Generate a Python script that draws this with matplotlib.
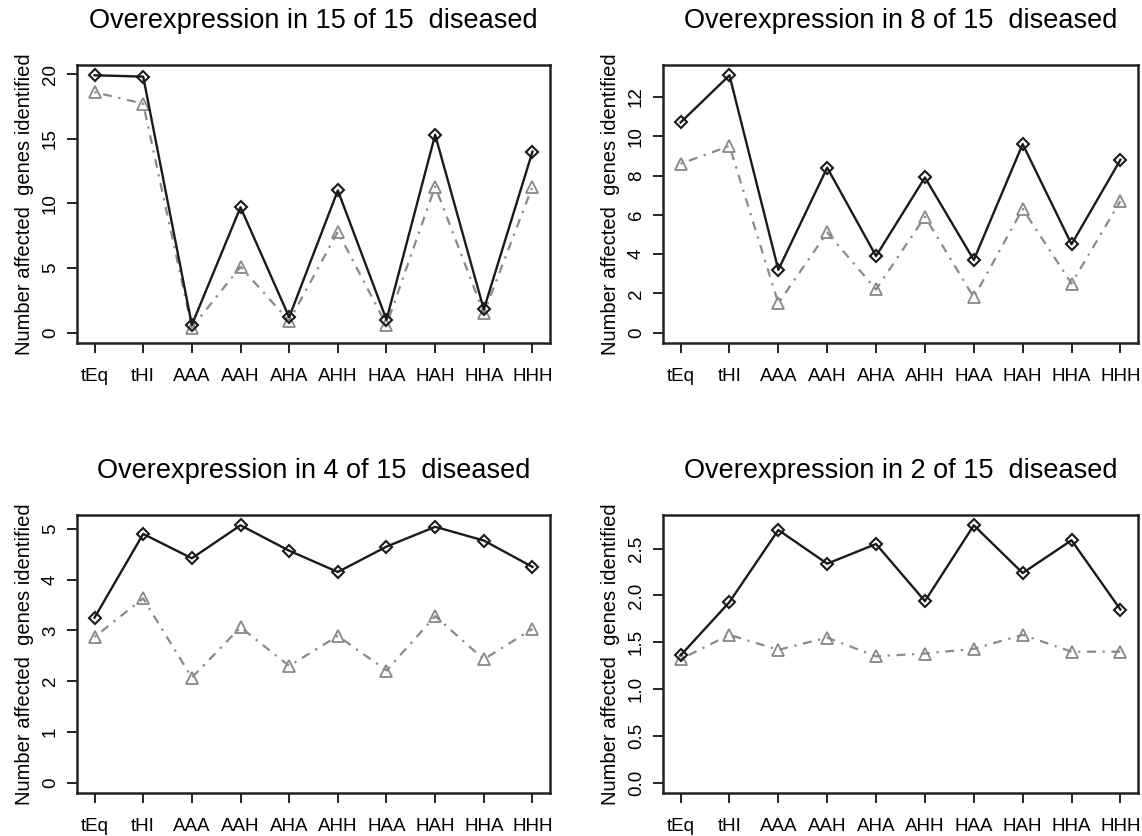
import matplotlib
matplotlib.use("Agg")
import matplotlib.pyplot as plt
import numpy as np

plt.rcParams['font.family'] = ['Liberation Sans', 'DejaVu Sans']

cats = ["tEq", "tHI", "AAA", "AAH", "AHA", "AHH", "HAA", "HAH", "HHA", "HHH"]

titles = ["Overexpression in 15 of 15  diseased",
          "Overexpression in 8 of 15  diseased",
          "Overexpression in 4 of 15  diseased",
          "Overexpression in 2 of 15  diseased"]

black_15 = [19.9, 19.8, 0.6, 9.7, 1.2, 11.0, 1.0, 15.3, 1.8, 14.0]
gray_15 = [18.6, 17.7, 0.4, 5.1, 0.9, 7.8, 0.6, 11.3, 1.5, 11.3]

black_8 = [10.7, 13.1, 3.2, 8.4, 3.9, 7.9, 3.7, 9.6, 4.5, 8.8]
gray_8 = [8.6, 9.5, 1.5, 5.1, 2.2, 5.9, 1.8, 6.3, 2.5, 6.7]

black_4 = [3.25, 4.9, 4.42, 5.07, 4.57, 4.15, 4.65, 5.04, 4.77, 4.25]
gray_4 = [2.87, 3.63, 2.07, 3.06, 2.3, 2.89, 2.21, 3.28, 2.43, 3.03]

black_2 = [1.36, 1.93, 2.70, 2.34, 2.55, 1.94, 2.75, 2.24, 2.59, 1.85]
gray_2 = [1.32, 1.58, 1.42, 1.55, 1.35, 1.38, 1.43, 1.58, 1.40, 1.40]

yticks = [np.arange(0, 21, 5), np.arange(0, 13, 2), np.arange(0, 6, 1), np.arange(0, 2.6, 0.5)]
ytick_fmt = ["{:.0f}", "{:.0f}", "{:.0f}", "{:.1f}"]

panels = [(black_15, gray_15), (black_8, gray_8), (black_4, gray_4), (black_2, gray_2)]

W, H = 1142, 836
fig = plt.figure(figsize=(W / 100, H / 100), dpi=100)

# axes boxes in pixels: left, top, right, bottom
boxes = [(77, 65, 550, 343), (663, 65, 1138, 343),
         (77, 515, 550, 793), (663, 515, 1138, 793)]

x = np.arange(len(cats))
for i, (blk, gry) in enumerate(panels):
    l, t, r, b = boxes[i]
    ax = fig.add_axes([l / W, 1 - b / H, (r - l) / W, (b - t) / H])
    ax.plot(x, gry, color='#8a8a8a', lw=1.6, linestyle=(0, (1, 3, 4, 3)),
            marker='^', markersize=8.5, markerfacecolor='none',
            markeredgecolor='#888888', markeredgewidth=1.3)
    ax.plot(x, blk, color='#1a1a1a', lw=1.7,
            marker='D', markersize=6.5, markerfacecolor='none',
            markeredgecolor='#1a1a1a', markeredgewidth=1.5)
    ymax = max(max(blk), max(gry))
    pad = 0.04 * ymax
    ax.set_ylim(-pad, ymax + pad)
    ax.set_xlim(-0.36, len(cats) - 1 + 0.36)
    ax.set_xticks(x)
    ax.set_xticklabels(cats, fontsize=13.5)
    ax.set_yticks(yticks[i])
    ax.set_yticklabels([ytick_fmt[i].format(v) for v in yticks[i]],
                       fontsize=13.5, rotation=90, va='center')
    ax.tick_params(direction='out', length=7, width=1.4, color='#222222', pad=11)
    ax.tick_params(axis='y', pad=6)
    for s in ax.spines.values():
        s.set_linewidth(1.8)
        s.set_color('#222222')
    ax.set_ylabel("Number affected  genes identified", fontsize=14.5, labelpad=6)
    ax.set_title(titles[i], fontsize=19.5, pad=27)

fig.savefig("out.png", dpi=100)
